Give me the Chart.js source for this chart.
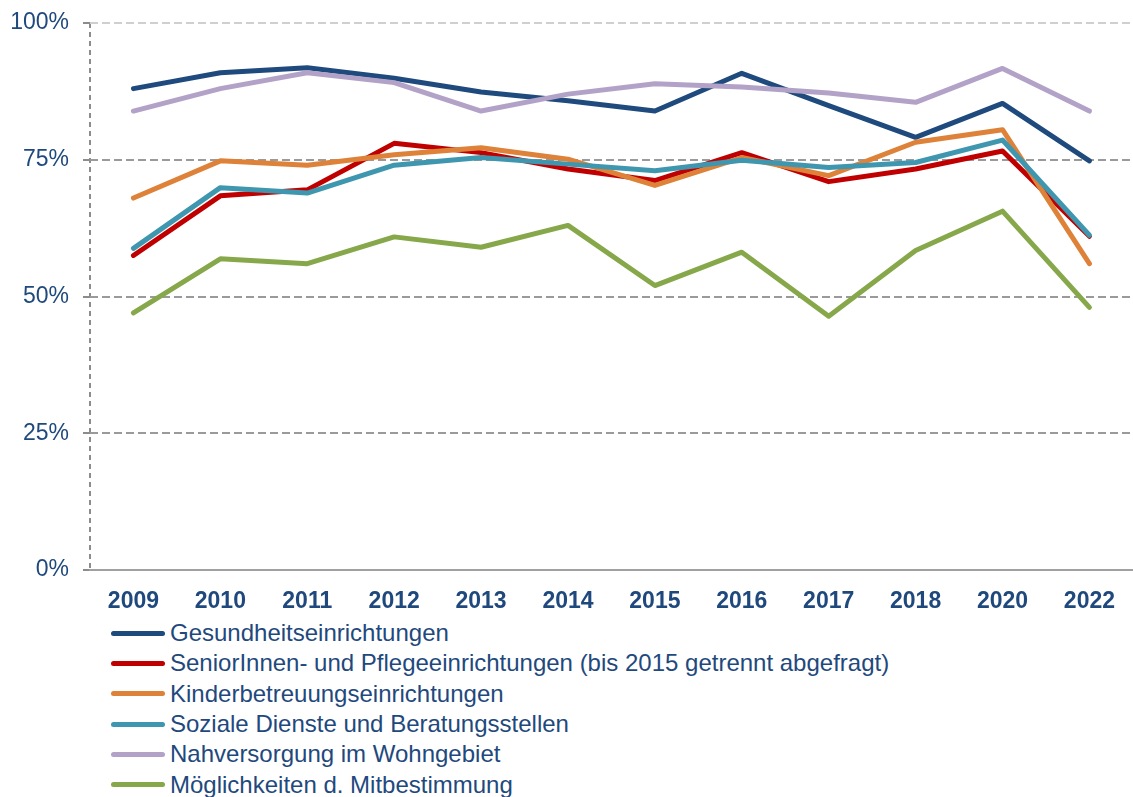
<!DOCTYPE html>
<html>
<head>
<meta charset="utf-8">
<script src="https://cdn.jsdelivr.net/npm/chart.js@4.4.1/dist/chart.umd.min.js"></script>
<style>
  html, body { margin: 0; padding: 0; background: #fff; }
  #wrap { position: relative; width: 1133px; height: 797px; overflow: hidden;
          font-family: "Liberation Sans", Arial, sans-serif; }
  #chart { position: absolute; left: 0; top: 0; }
  #legend { position: absolute; left: 111px; top: 618px; }
  .leg-row { height: 30.3px; display: flex; align-items: center; color: #1F497D;
             font-size: 24px; white-space: nowrap; }
  .leg-swatch { width: 54px; height: 5px; border-radius: 3px; margin-right: 5px; flex: none; }
</style>
</head>
<body>
<div id="wrap">
  <canvas id="chart" width="1133" height="618"></canvas>
  <div id="legend"></div>
</div>
<script>
// --- Data ---
const years = ['2009', '2010', '2011', '2012', '2013', '2014', '2015', '2016', '2017', '2018', '2020', '2022'];

const gesundheit   = [88.0, 90.9, 91.8, 89.9, 87.4, 85.8, 83.9, 90.8, 84.9, 79.1, 85.3, 74.8];
const senioren     = [57.5, 68.4, 69.5, 78.0, 76.3, 73.3, 71.2, 76.3, 71.0, 73.3, 76.6, 61.0];
const kinder       = [68.0, 74.8, 74.0, 75.9, 77.2, 75.1, 70.3, 75.4, 72.1, 78.2, 80.5, 56.0];
const soziale      = [58.8, 69.9, 68.9, 74.0, 75.4, 74.2, 73.0, 74.9, 73.6, 74.5, 78.6, 61.2];
const nahversorgung= [83.9, 88.0, 90.9, 89.1, 83.9, 87.0, 88.9, 88.3, 87.2, 85.5, 91.7, 83.9];
const mitbestimmung= [47.0, 56.9, 56.0, 60.9, 59.0, 63.0, 52.0, 58.1, 46.4, 58.4, 65.6, 48.0];

const seriesNames = [
  'Gesundheitseinrichtungen',
  'SeniorInnen- und Pflegeeinrichtungen (bis 2015 getrennt abgefragt)',
  'Kinderbetreuungseinrichtungen',
  'Soziale Dienste und Beratungsstellen',
  'Nahversorgung im Wohngebiet',
  'Möglichkeiten d. Mitbestimmung'
];
const seriesValues = [gesundheit, senioren, kinder, soziale, nahversorgung, mitbestimmung];
const seriesColors = ['#1F4A7D', '#C00000', '#DE823A', '#3F97AF', '#B3A2C7', '#86A84A'];

const yTicks = [0, 25, 50, 75, 100];

const TEXT = '#1F497D';
const FONT = '"Liberation Sans", Arial, sans-serif';

// later series drawn on top (like the original)
const datasets = seriesNames.map((name, i) => ({
  label: name,
  data: seriesValues[i],
  borderColor: seriesColors[i],
  backgroundColor: seriesColors[i],
  borderWidth: 5,
  pointRadius: 0,
  pointHoverRadius: 0,
  tension: 0,
  borderCapStyle: 'round',
  borderJoinStyle: 'round',
  fill: false,
  order: seriesNames.length - i,
}));

new Chart(document.getElementById('chart'), {
  type: 'line',
  data: { labels: years, datasets },
  options: {
    responsive: false,
    animation: false,
    layout: { padding: { top: 23, right: 0, left: 0, bottom: 0 } },
    plugins: { legend: { display: false }, tooltip: { enabled: false } },
    scales: {
      x: {
        offset: true,
        afterFit: s => { s.height = 48; },
        grid: {
          offset: true,
          drawTicks: false,
          lineWidth: 2,
          color: ctx => ctx.index === 0 ? '#8c8c8c' : 'rgba(0,0,0,0)',
        },
        border: { display: true, color: '#a0a0a0', width: 2, dash: [5, 4] },
        ticks: {
          color: TEXT,
          padding: 18,
          font: { family: FONT, size: 23, weight: 'bold' },
          maxRotation: 0,
          autoSkip: false,
        },
      },
      y: {
        min: 0,
        max: 100,
        // fixed axis width; drop the label overhang padding so the plot top sits at ~23px
        afterFit: s => { s.width = 90; s.paddingTop = 0; s.paddingBottom = 0; },
        afterBuildTicks: s => { s.ticks = yTicks.map(v => ({ value: v })); },
        border: { display: false, dash: [8, 4] },
        grid: {
          lineWidth: 2,
          tickLength: 7,
          tickColor: '#8c8c8c',
          color: ctx => {
            const v = ctx.tick && ctx.tick.value;
            if (v === 100) return '#cfcfcf';
            if (v === 0) return 'rgba(0,0,0,0)';
            return '#9a9a9a';
          },
        },
        ticks: {
          color: TEXT,
          padding: 14,
          font: { family: FONT, size: 23 },
          callback: v => v + '%',
        },
      },
    },
  },
});

// --- HTML legend, one entry per row ---
const legend = document.getElementById('legend');
legend.innerHTML = seriesNames.map((n, i) => `
  <div class="leg-row"><span class="leg-swatch" style="background:${seriesColors[i]}"></span>${n}</div>`).join('');
</script>
</body>
</html>
